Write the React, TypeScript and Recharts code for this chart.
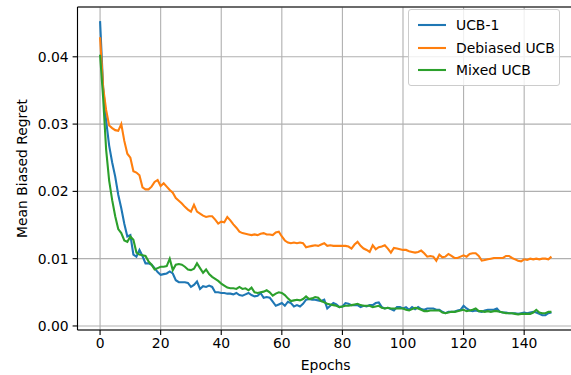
import { LineChart, Line, XAxis, YAxis, CartesianGrid, Legend, ReferenceLine, Label } from 'recharts';

const ucb1 = [
  0.0453, 0.0355, 0.0305, 0.0268, 0.0243, 0.0222, 0.0195, 0.0175, 0.0152, 0.0133,
  0.0135, 0.0106, 0.0103, 0.0113, 0.0104, 0.0093, 0.0093, 0.0091, 0.0086, 0.0080,
  0.0076, 0.0077, 0.0078, 0.0081, 0.0078, 0.0068, 0.0065, 0.0065, 0.0065, 0.0064,
  0.0058, 0.0061, 0.0066, 0.0055, 0.0059, 0.0058, 0.0060, 0.0058, 0.0050, 0.0050,
  0.0049, 0.0049, 0.0048, 0.0048, 0.0047, 0.0049, 0.0046, 0.0045, 0.0047, 0.0049,
  0.0046, 0.0044, 0.0045, 0.0049, 0.0042, 0.0043, 0.0042, 0.0036, 0.0030, 0.0032,
  0.0034, 0.0030, 0.0036, 0.0034, 0.0029, 0.0031, 0.0029, 0.0033, 0.0039, 0.0040,
  0.0039, 0.0039, 0.0038, 0.0037, 0.0039, 0.0026, 0.0030, 0.0034, 0.0032, 0.0028,
  0.0029, 0.0034, 0.0033, 0.0031, 0.0031, 0.0031, 0.0028, 0.0030, 0.0029, 0.0031,
  0.0031, 0.0034, 0.0035, 0.0028, 0.0026, 0.0027, 0.0025, 0.0023, 0.0028, 0.0028,
  0.0026, 0.0028, 0.0024, 0.0028, 0.0025, 0.0028, 0.0025, 0.0024, 0.0026, 0.0026,
  0.0026, 0.0024, 0.0024, 0.0021, 0.0019, 0.0021, 0.0021, 0.0021, 0.0023, 0.0024,
  0.0030, 0.0026, 0.0023, 0.0022, 0.0023, 0.0022, 0.0021, 0.0023, 0.0024, 0.0024,
  0.0024, 0.0026, 0.0021, 0.0020, 0.0020, 0.0019, 0.0019, 0.0019, 0.0018, 0.0019,
  0.0020, 0.0019, 0.0020, 0.0021, 0.0020, 0.0018, 0.0016, 0.0016, 0.0019, 0.0020,
];

const debiasedUcb = [
  0.0429, 0.0355, 0.0321, 0.0298, 0.0294, 0.0291, 0.0290, 0.0300, 0.0275, 0.0256,
  0.0250, 0.0230, 0.0228, 0.0224, 0.0206, 0.0203, 0.0203, 0.0207, 0.0214, 0.0217,
  0.0208, 0.0212, 0.0207, 0.0202, 0.0198, 0.0190, 0.0186, 0.0182, 0.0177, 0.0173,
  0.0170, 0.0180, 0.0170, 0.0167, 0.0164, 0.0162, 0.0163, 0.0163, 0.0158, 0.0152,
  0.0155, 0.0154, 0.0162, 0.0157, 0.0151, 0.0146, 0.0140, 0.0138, 0.0137, 0.0136,
  0.0135, 0.0136, 0.0135, 0.0137, 0.0138, 0.0136, 0.0136, 0.0135, 0.0139, 0.0140,
  0.0133, 0.0127, 0.0124, 0.0123, 0.0124, 0.0123, 0.0124, 0.0123, 0.0117, 0.0118,
  0.0119, 0.0120, 0.0119, 0.0121, 0.0123, 0.0119, 0.0120, 0.0119, 0.0119, 0.0119,
  0.0119, 0.0119, 0.0118, 0.0115, 0.0121, 0.0125, 0.0119, 0.0115, 0.0113, 0.0110,
  0.0120, 0.0114, 0.0117, 0.0118, 0.0120, 0.0115, 0.0109, 0.0116, 0.0115, 0.0114,
  0.0113, 0.0113, 0.0111, 0.0110, 0.0109, 0.0110, 0.0112, 0.0108, 0.0103, 0.0104,
  0.0103, 0.0097, 0.0106, 0.0102, 0.0103, 0.0107, 0.0104, 0.0101, 0.0101, 0.0103,
  0.0105, 0.0103, 0.0107, 0.0108, 0.0108, 0.0104, 0.0097, 0.0098, 0.0099, 0.0100,
  0.0101, 0.0101, 0.0101, 0.0101, 0.0104, 0.0104, 0.0101, 0.0099, 0.0097, 0.0096,
  0.0099, 0.0098, 0.0100, 0.0099, 0.0100, 0.0099, 0.0100, 0.0100, 0.0099, 0.0103,
];

const mixedUcb = [
  0.0403, 0.0340, 0.0262, 0.0216, 0.0187, 0.0163, 0.0144, 0.0138, 0.0127, 0.0125,
  0.0133, 0.0128, 0.0109, 0.0106, 0.0105, 0.0104, 0.0096, 0.0091, 0.0084, 0.0086,
  0.0088, 0.0088, 0.0089, 0.0100, 0.0083, 0.0091, 0.0092, 0.0091, 0.0088, 0.0084,
  0.0083, 0.0085, 0.0093, 0.0086, 0.0079, 0.0084, 0.0077, 0.0073, 0.0070, 0.0067,
  0.0063, 0.0060, 0.0057, 0.0056, 0.0056, 0.0055, 0.0058, 0.0055, 0.0056, 0.0053,
  0.0057, 0.0050, 0.0049, 0.0050, 0.0051, 0.0053, 0.0050, 0.0045, 0.0048, 0.0050,
  0.0049, 0.0046, 0.0041, 0.0037, 0.0038, 0.0039, 0.0038, 0.0040, 0.0044, 0.0040,
  0.0041, 0.0043, 0.0042, 0.0037, 0.0035, 0.0033, 0.0032, 0.0031, 0.0030, 0.0028,
  0.0029, 0.0030, 0.0030, 0.0031, 0.0032, 0.0033, 0.0031, 0.0030, 0.0030, 0.0030,
  0.0028, 0.0029, 0.0030, 0.0027, 0.0026, 0.0027, 0.0026, 0.0026, 0.0026, 0.0026,
  0.0026, 0.0024, 0.0023, 0.0025, 0.0027, 0.0026, 0.0024, 0.0022, 0.0022, 0.0023,
  0.0023, 0.0023, 0.0023, 0.0020, 0.0019, 0.0020, 0.0021, 0.0021, 0.0022, 0.0023,
  0.0024, 0.0022, 0.0023, 0.0024, 0.0026, 0.0022, 0.0022, 0.0021, 0.0022, 0.0021,
  0.0022, 0.0022, 0.0021, 0.0020, 0.0019, 0.0019, 0.0019, 0.0018, 0.0017, 0.0018,
  0.0018, 0.0018, 0.0018, 0.0020, 0.0024, 0.0020, 0.0019, 0.0019, 0.0021, 0.0021,
];

const epochs = ucb1.map((_, i) => i);
const xTicks = [0, 20, 40, 60, 80, 100, 120, 140];
const yTicks = [0, 0.01, 0.02, 0.03, 0.04];

const series = [
  { key: 'ucb1', name: 'UCB-1', color: '#1f77b4' },
  { key: 'debiased', name: 'Debiased UCB', color: '#ff7f0e' },
  { key: 'mixed', name: 'Mixed UCB', color: '#2ca02c' },
];

const data = epochs.map((e, i) => ({
  epoch: e,
  ucb1: ucb1[i],
  debiased: debiasedUcb[i],
  mixed: mixedUcb[i],
}));

const FONT = '"DejaVu Sans", sans-serif';
const X_DOMAIN = [-7.45, 156.45];
const Y_DOMAIN = [-0.0006, 0.0474];

const tickStyle = { fontFamily: FONT, fontSize: 13.9, fill: '#000' };

const LegendBox = () => (
  <div
    style={{
      width: 152,
      height: 77,
      boxSizing: 'border-box',
      border: '1px solid #cccccc',
      borderRadius: 3,
      background: 'rgba(255,255,255,0.8)',
      paddingTop: 4,
      fontFamily: FONT,
      fontSize: 13.9,
      color: '#000',
    }}
  >
    {series.map((s) => (
      <div key={s.key} style={{ height: 22.5, display: 'flex', alignItems: 'center' }}>
        <svg width={28} height={4} style={{ marginLeft: 9, marginRight: 10 }}>
          <line x1={0} y1={2} x2={28} y2={2} stroke={s.color} strokeWidth={2.1} />
        </svg>
        <span>{s.name}</span>
      </div>
    ))}
  </div>
);

export default function App() {
  return (
    <div style={{ position: 'fixed', top: 0, left: 0, width: 571, height: 375, overflow: 'hidden', background: '#fff' }}>
      <LineChart width={600} height={375} data={data} margin={{ top: 7, right: 26, bottom: 0, left: 0 }}>
        <CartesianGrid stroke="#b0b0b0" strokeWidth={1.1} />
        <XAxis
          dataKey="epoch"
          type="number"
          domain={X_DOMAIN}
          ticks={xTicks}
          allowDataOverflow
          height={45}
          tick={tickStyle}
          tickSize={4.9}
          tickMargin={3}
          stroke="#000"
          strokeWidth={1.1}
        >
          <Label
            content={() => (
              <text x={325.7} y={370} textAnchor="middle" style={{ fontFamily: FONT, fontSize: 13.9 }} fill="#000">
                Epochs
              </text>
            )}
          />
        </XAxis>
        <YAxis
          type="number"
          domain={Y_DOMAIN}
          ticks={yTicks}
          allowDataOverflow
          width={77.5}
          tick={tickStyle}
          tickSize={4.9}
          tickMargin={4}
          tickFormatter={(v: number) => v.toFixed(2)}
          stroke="#000"
          strokeWidth={1.1}
        >
          <Label
            content={() => (
              <text
                x={22}
                y={168.5}
                textAnchor="middle"
                dominantBaseline="central"
                transform="rotate(-90 22 168.5)"
                style={{ fontFamily: FONT, fontSize: 13.9 }}
                fill="#000"
              >
                Mean Biased Regret
              </text>
            )}
          />
        </YAxis>
        <ReferenceLine y={Y_DOMAIN[1]} stroke="#000" strokeWidth={1.1} />
        {series.map((s) => (
          <Line
            key={s.key}
            dataKey={s.key}
            name={s.name}
            stroke={s.color}
            strokeWidth={2.1}
            dot={false}
            isAnimationActive={false}
          />
        ))}
        <Legend
          layout="vertical"
          align="center"
          verticalAlign="middle"
          wrapperStyle={{ top: 9, left: 408, width: 152, height: 77 }}
          content={() => <LegendBox />}
        />
      </LineChart>
    </div>
  );
}
